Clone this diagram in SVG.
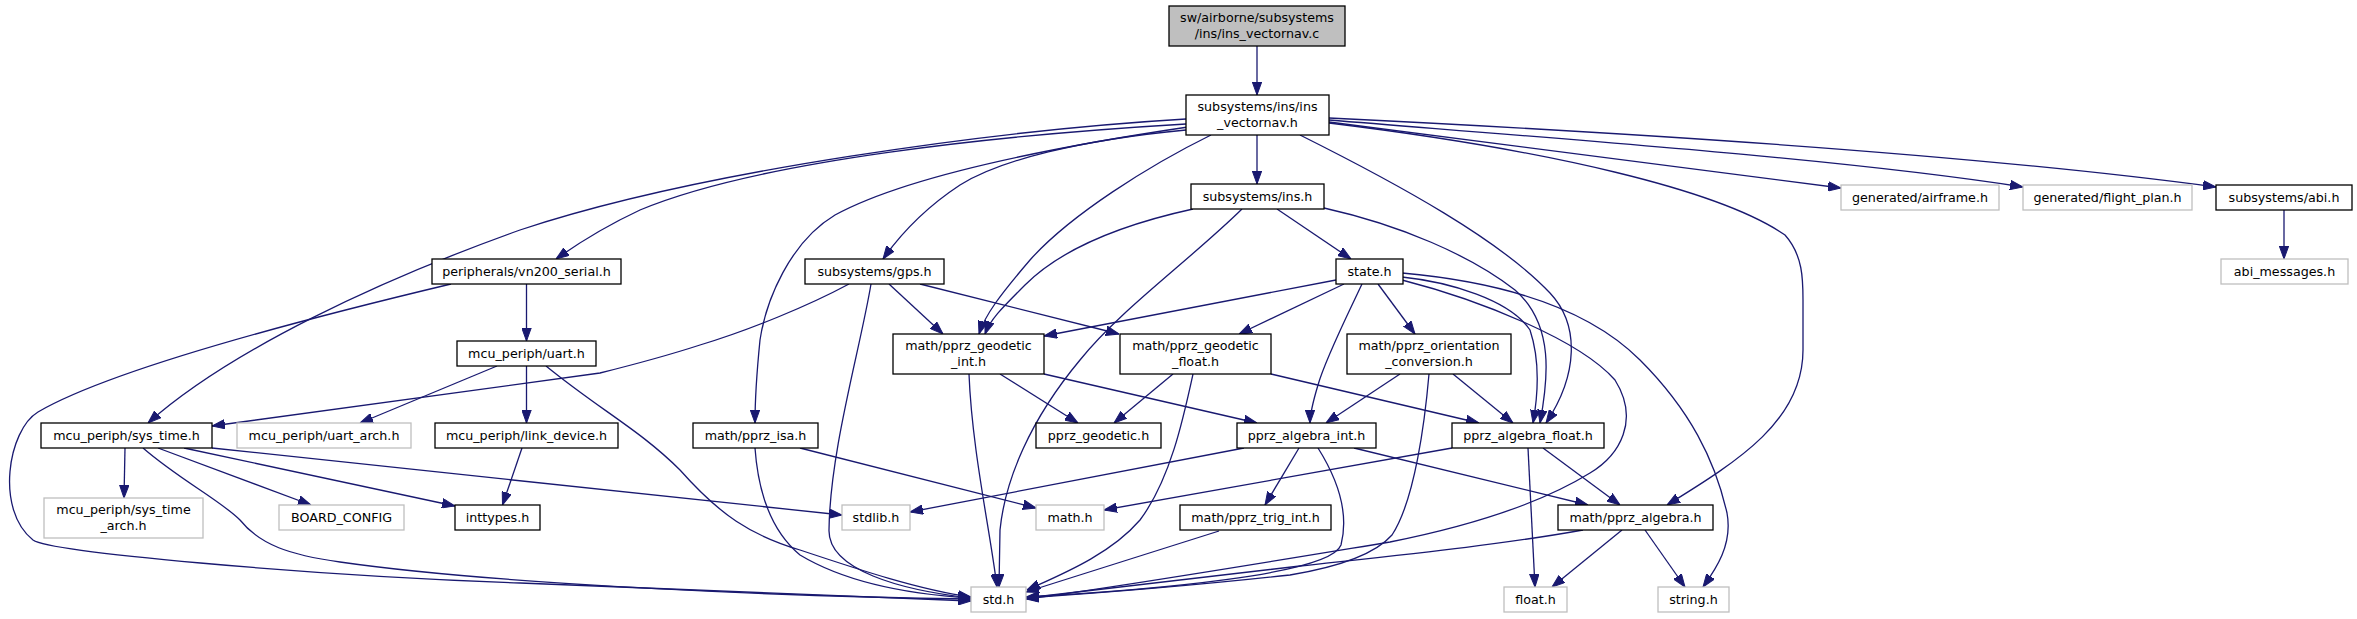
<svg xmlns="http://www.w3.org/2000/svg" width="2357" height="619" viewBox="0 0 2357 619">
<style>
.n rect{fill:#fff;stroke:#000;stroke-width:1.3}
.g rect{fill:#fff;stroke:#bfbfbf;stroke-width:1.3}
.r rect{fill:#bfbfbf;stroke:#000;stroke-width:1.3}
text{font-family:"DejaVu Sans","Liberation Sans",sans-serif;font-size:12.7px;text-anchor:middle;fill:#000}
#edges path{fill:none;stroke:#191970;stroke-width:1.3;marker-end:url(#ah)}
</style>
<defs>
<marker id="ah" viewBox="0 0 13 10" refX="13" refY="5" markerWidth="13" markerHeight="10" markerUnits="userSpaceOnUse" orient="auto">
<path d="M0,0.3 L13,5 L0,9.7 z" fill="#191970" stroke="#191970" stroke-width="1"/>
</marker>
</defs>
<rect width="2357" height="619" fill="#fff"/>
<g id="edges">
<path d="M1257,46 L1257,95"/>
<path d="M1257,135 L1257,184"/>
<path d="M1186,119 C1000,130 700,170 520,230 C380,280 230,350 148,423"/>
<path d="M1186,124 C1000,135 760,160 640,210 C610,224 580,242 556,259"/>
<path d="M1188,127 C1000,155 890,185 835,215 C790,242 766,300 760,340 C756,380 755,400 755,423"/>
<path d="M1186,130 C1080,140 1000,160 960,185 C925,208 900,235 883,259"/>
<path d="M1211,135 C1150,165 1070,215 1030,260 C1000,295 985,315 979,334"/>
<path d="M1300,135 C1400,185 1500,240 1550,293 C1580,325 1578,375 1546,423"/>
<path d="M1329,123 C1550,150 1720,190 1785,235 C1803,255 1803,280 1803,300 L1803,350 C1803,420 1740,460 1667,505"/>
<path d="M1329,122 L1841,188"/>
<path d="M1329,120 C1600,142 1850,160 2023,187"/>
<path d="M1329,118 C1700,136 2000,158 2216,187"/>
<path d="M1193,209 C1120,225 1060,250 1025,285 C1000,310 990,320 985,334"/>
<path d="M1242,209 C1190,260 1120,310 1080,360 C1030,420 1005,480 1000,530 L999,587"/>
<path d="M1277,209 L1351,259"/>
<path d="M1324,208 C1400,225 1470,255 1515,290 C1555,325 1548,380 1540,423"/>
<path d="M849,284 C810,305 750,330 700,345 C660,358 620,368 600,373 L212,426"/>
<path d="M889,284 L943,334"/>
<path d="M920,284 L1119,334"/>
<path d="M871,284 C860,350 830,450 829,530 C828,570 900,590 971,598"/>
<path d="M526.5,284 L526.5,341"/>
<path d="M451,284 C300,320 110,370 38,412 C8,430 -5,510 33,540 C50,552 300,575 520,583 C700,589 880,596 971,601"/>
<path d="M497,366 L360,423"/>
<path d="M526.5,366 L526.5,423"/>
<path d="M546,366 C600,410 640,430 680,470 C720,515 750,535 800,550 C860,570 920,590 971,597"/>
<path d="M522,448 L502.5,505"/>
<path d="M125,448 L124,498"/>
<path d="M158,448 L311,505"/>
<path d="M184,448 L455,506"/>
<path d="M212,448 L842,515"/>
<path d="M143,448 C180,480 220,500 240,520 C260,545 290,555 340,562 C500,585 800,597 971,599"/>
<path d="M800,448 L1036,508"/>
<path d="M755,448 C758,490 770,530 800,555 C850,585 920,595 971,598"/>
<path d="M1000,374 L1078,423"/>
<path d="M1044,374 L1257,423"/>
<path d="M969,374 C972,450 990,530 997,587"/>
<path d="M1173,374 L1114,423"/>
<path d="M1271,374 L1479,423"/>
<path d="M1193,374 C1183,420 1170,480 1140,520 C1110,555 1060,575 1027,590"/>
<path d="M1336,280 L1044,336"/>
<path d="M1344,284 L1239,334"/>
<path d="M1378,284 L1415,334"/>
<path d="M1362,284 C1345,320 1325,360 1318,385 C1312,405 1310,415 1310,423"/>
<path d="M1402,277 C1450,282 1510,300 1530,330 C1540,360 1538,395 1533,423"/>
<path d="M1402,280 C1480,300 1580,340 1615,380 C1640,420 1620,455 1590,473 C1530,510 1450,530 1390,542 C1250,565 1100,590 1026,599"/>
<path d="M1402,273 C1480,280 1580,300 1640,360 C1690,410 1715,460 1727,513 C1733,545 1715,570 1703,587"/>
<path d="M1400,374 L1326,423"/>
<path d="M1453,374 L1513,423"/>
<path d="M1429,374 C1425,420 1415,500 1392,535 C1370,560 1320,570 1290,575 C1200,585 1100,593 1026,598"/>
<path d="M1244,448 L910,512"/>
<path d="M1299,448 L1265,505"/>
<path d="M1354,448 L1588,505"/>
<path d="M1318,448 C1335,475 1350,510 1341,545 C1330,575 1150,590 1026,597"/>
<path d="M1452,448 L1104,510"/>
<path d="M1528,448 L1535,587"/>
<path d="M1543,448 L1620,505"/>
<path d="M1219,531 L1026,592"/>
<path d="M1622,530 L1552,587"/>
<path d="M1645,530 L1685,587"/>
<path d="M1583,530 C1500,545 1400,555 1300,566 C1200,578 1100,590 1026,598"/>
<path d="M2284,210 L2284,259"/>
</g>
<g id="n_root" class="r"><rect x="1169" y="6" width="176" height="40"/><text x="1257" y="22">sw/airborne/subsystems</text><text x="1257" y="37.5">/ins/ins_vectornav.c</text></g>
<g id="n_vectornav" class="n"><rect x="1186" y="95" width="143" height="40"/><text x="1257.5" y="111">subsystems/ins/ins</text><text x="1257.5" y="126.5">_vectornav.h</text></g>
<g id="n_ins" class="n"><rect x="1191" y="184" width="133" height="25"/><text x="1257.5" y="201">subsystems/ins.h</text></g>
<g id="n_gps" class="n"><rect x="805" y="259" width="139" height="25"/><text x="874.5" y="276">subsystems/gps.h</text></g>
<g id="n_state" class="n"><rect x="1336" y="259" width="67" height="25"/><text x="1369.5" y="276">state.h</text></g>
<g id="n_vn200" class="n"><rect x="432" y="259" width="189" height="25"/><text x="526.5" y="276">peripherals/vn200_serial.h</text></g>
<g id="n_uart" class="n"><rect x="457" y="341" width="139" height="25"/><text x="526.5" y="358">mcu_periph/uart.h</text></g>
<g id="n_geo_int" class="n"><rect x="893" y="334" width="151" height="40"/><text x="968.5" y="350">math/pprz_geodetic</text><text x="968.5" y="365.5">_int.h</text></g>
<g id="n_geo_float" class="n"><rect x="1120" y="334" width="151" height="40"/><text x="1195.5" y="350">math/pprz_geodetic</text><text x="1195.5" y="365.5">_float.h</text></g>
<g id="n_orient" class="n"><rect x="1347" y="334" width="164" height="40"/><text x="1429" y="350">math/pprz_orientation</text><text x="1429" y="365.5">_conversion.h</text></g>
<g id="n_sys_time" class="n"><rect x="41" y="423" width="171" height="25"/><text x="126.5" y="440">mcu_periph/sys_time.h</text></g>
<g id="n_uart_arch" class="g"><rect x="237" y="423" width="174" height="25"/><text x="324" y="440">mcu_periph/uart_arch.h</text></g>
<g id="n_link" class="n"><rect x="435" y="423" width="183" height="25"/><text x="526.5" y="440">mcu_periph/link_device.h</text></g>
<g id="n_isa" class="n"><rect x="693" y="423" width="125" height="25"/><text x="755.5" y="440">math/pprz_isa.h</text></g>
<g id="n_pprz_geodetic" class="n"><rect x="1036" y="423" width="125" height="25"/><text x="1098.5" y="440">pprz_geodetic.h</text></g>
<g id="n_alg_int" class="n"><rect x="1237" y="423" width="139" height="25"/><text x="1306.5" y="440">pprz_algebra_int.h</text></g>
<g id="n_alg_float" class="n"><rect x="1452" y="423" width="152" height="25"/><text x="1528" y="440">pprz_algebra_float.h</text></g>
<g id="n_sys_time_arch" class="g"><rect x="44" y="498" width="159" height="40"/><text x="123.5" y="514">mcu_periph/sys_time</text><text x="123.5" y="529.5">_arch.h</text></g>
<g id="n_board" class="g"><rect x="279" y="505" width="125" height="25"/><text x="341.5" y="522">BOARD_CONFIG</text></g>
<g id="n_inttypes" class="n"><rect x="455" y="505" width="85" height="25"/><text x="497.5" y="522">inttypes.h</text></g>
<g id="n_stdlib" class="g"><rect x="842" y="505" width="68" height="25"/><text x="876" y="522">stdlib.h</text></g>
<g id="n_math" class="g"><rect x="1036" y="505" width="68" height="25"/><text x="1070" y="522">math.h</text></g>
<g id="n_trig" class="n"><rect x="1180" y="505" width="151" height="25"/><text x="1255.5" y="522">math/pprz_trig_int.h</text></g>
<g id="n_algebra" class="n"><rect x="1558" y="505" width="155" height="25"/><text x="1635.5" y="522">math/pprz_algebra.h</text></g>
<g id="n_std" class="g"><rect x="971" y="587" width="55" height="25"/><text x="998.5" y="604">std.h</text></g>
<g id="n_float" class="g"><rect x="1504" y="587" width="63" height="25"/><text x="1535.5" y="604">float.h</text></g>
<g id="n_string" class="g"><rect x="1658" y="587" width="71" height="25"/><text x="1693.5" y="604">string.h</text></g>
<g id="n_airframe" class="g"><rect x="1841" y="185" width="158" height="25"/><text x="1920" y="202">generated/airframe.h</text></g>
<g id="n_flight_plan" class="g"><rect x="2023" y="185" width="169" height="25"/><text x="2107.5" y="202">generated/flight_plan.h</text></g>
<g id="n_abi" class="n"><rect x="2216" y="185" width="136" height="25"/><text x="2284" y="202">subsystems/abi.h</text></g>
<g id="n_abi_msg" class="g"><rect x="2221" y="259" width="127" height="25"/><text x="2284.5" y="276">abi_messages.h</text></g>
</svg>
